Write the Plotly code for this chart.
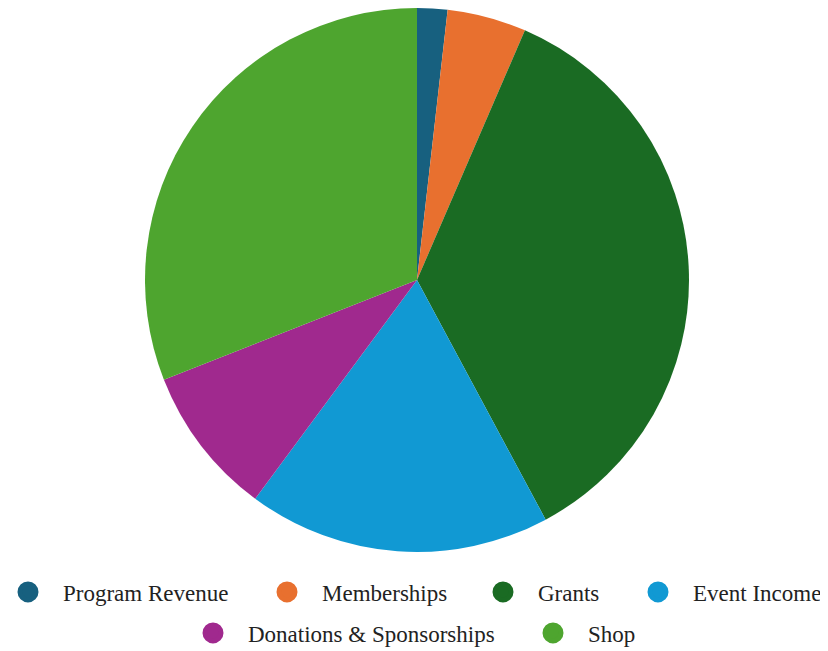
import plotly.graph_objects as go

categories = ["Program Revenue", "Memberships", "Grants", "Event Income",
              "Donations & Sponsorships", "Shop"]
values = [1.8, 4.7, 35.7, 18.0, 8.9, 31.0]
colors = ["#17607f", "#e8702f", "#1a6b23", "#1199d3", "#a0298e", "#4ea52f"]

W, H = 828, 651
OFF = 8  # page body margin
r = 272
cx, cy = 417 - OFF, r
# legend symbol centers (screen px) and rows
leg_x = [28, 287, 503, 658, 213, 553]
leg_y = [593, 593, 593, 593, 634, 634]
ITEMW = 60
SYM_C = (ITEMW + 10) / 2

fig = go.Figure()
fig.add_trace(go.Pie(
    labels=categories, values=values, sort=False, direction="clockwise",
    rotation=0, marker=dict(colors=colors, line=dict(width=0)),
    textinfo="none", hoverinfo="label+percent", showlegend=False,
    domain=dict(x=[(cx - r) / W, (cx + r) / W],
                y=[max(0, 1 - (cy + r) / H), min(1, 1 - (cy - r) / H)]),
))
layout_legends = {}
for i, (name, c) in enumerate(zip(categories, colors)):
    key = "legend" if i == 0 else f"legend{i+1}"
    fig.add_trace(go.Scatter(
        x=[None], y=[None], mode="markers", name=name, legend=key,
        marker=dict(symbol="circle", size=16, color=c, line=dict(width=5, color=c)),
    ))
    layout_legends[key] = dict(
        orientation="h", x=(leg_x[i] - OFF - SYM_C) / W, xanchor="left",
        y=1 - (leg_y[i] - OFF - 1) / H, yanchor="middle",
        font=dict(family="Liberation Serif", size=23, color="#222"), itemwidth=ITEMW,
        bgcolor="rgba(0,0,0,0)")

fig.update_layout(
    width=W, height=H,
    margin=dict(l=0, r=0, t=0, b=0, autoexpand=False),
    paper_bgcolor="white", plot_bgcolor="white",
    xaxis=dict(visible=False), yaxis=dict(visible=False),
    **layout_legends,
)
fig.write_html("out.html")
